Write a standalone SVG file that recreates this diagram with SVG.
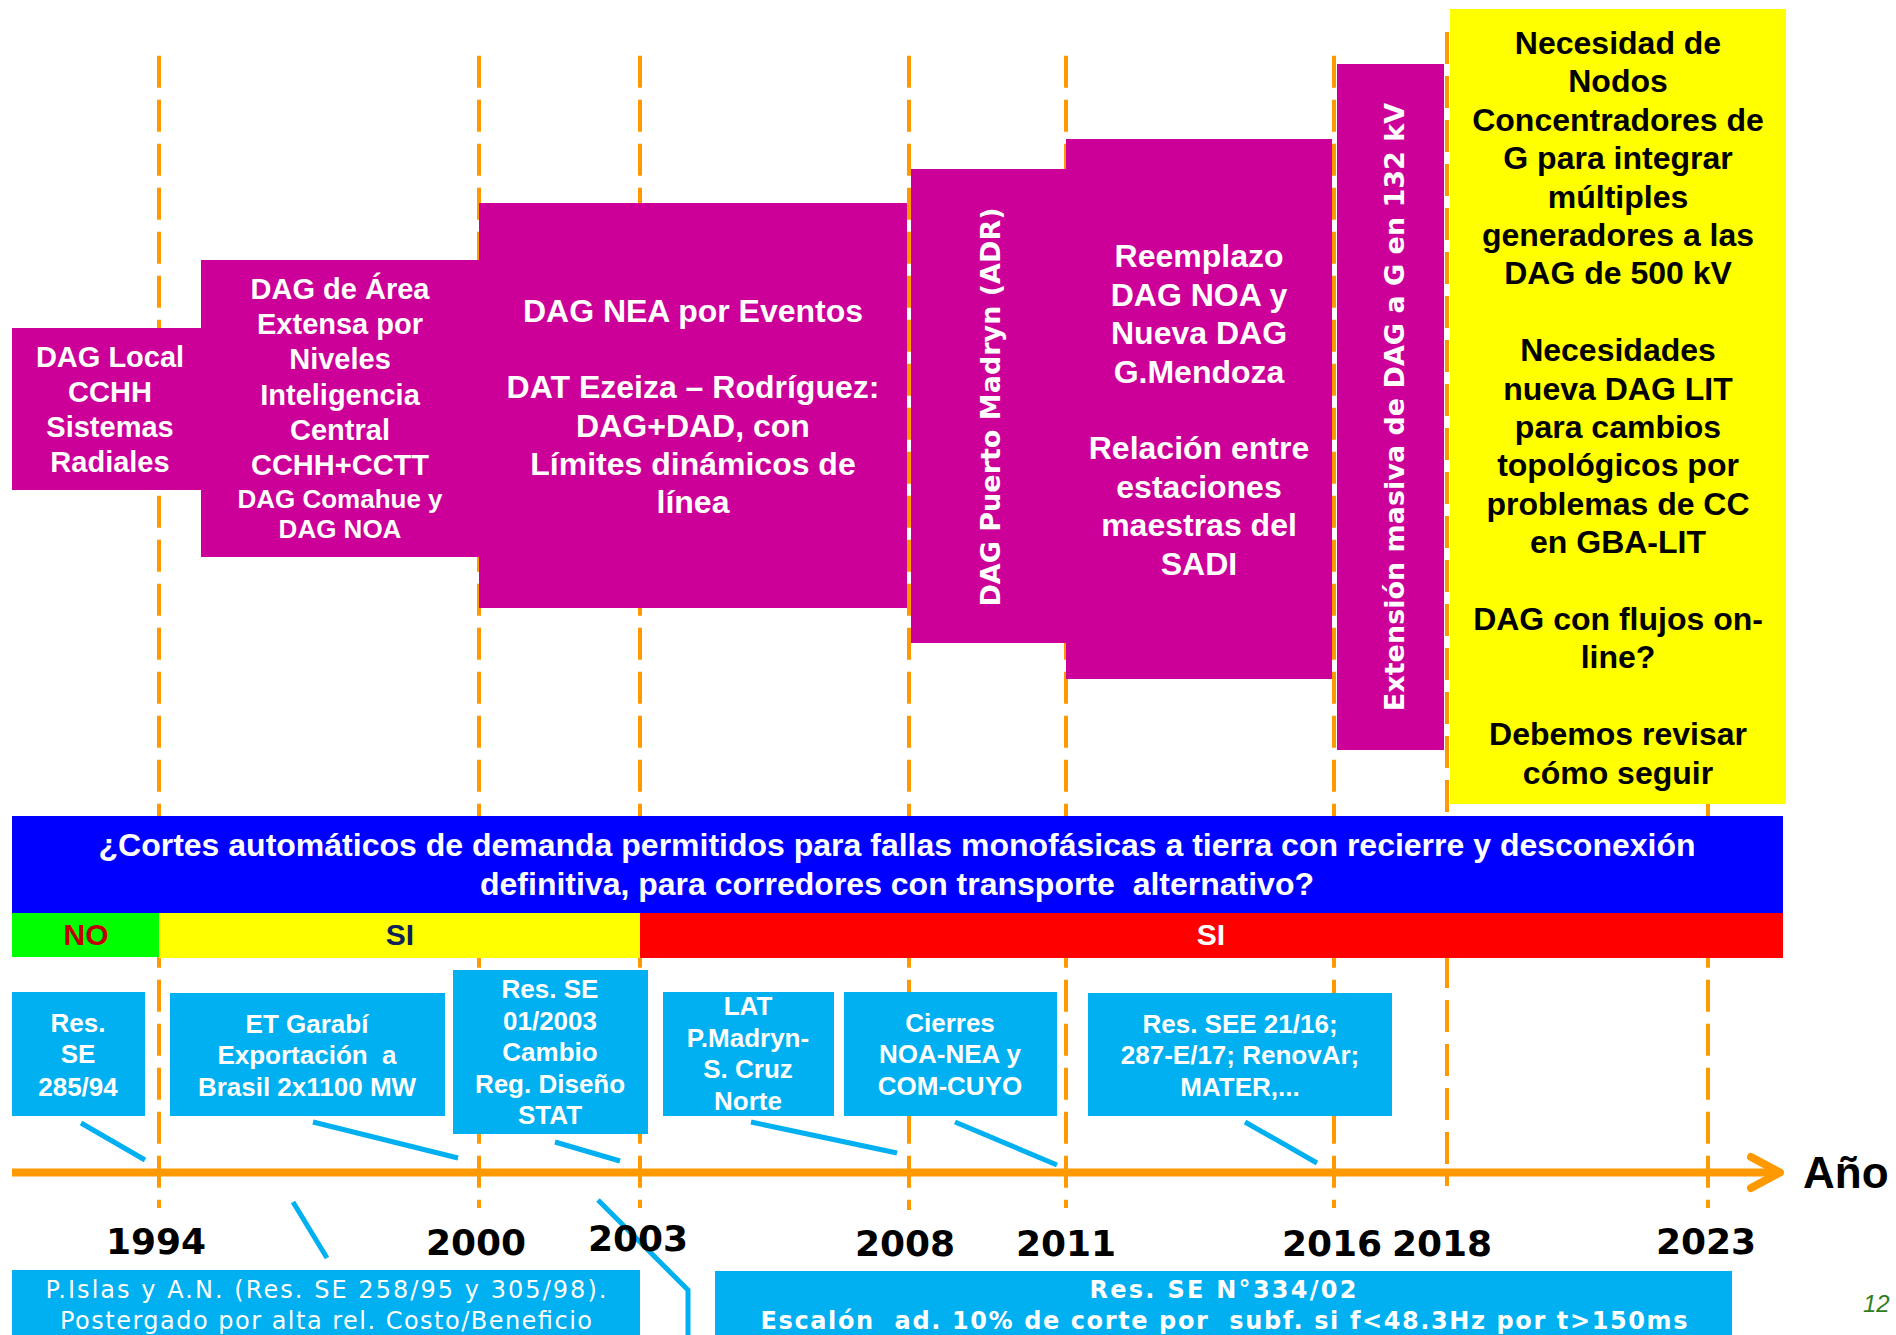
<svg xmlns="http://www.w3.org/2000/svg" width="1896" height="1335" viewBox="0 0 1896 1335">
<style>
.dash{stroke:#FF9900;stroke-width:4;stroke-dasharray:32 12;fill:none}
.mag{fill:#CC0099}
.cy{fill:#00B0F0}
.wt{fill:#FFFFFF;font-family:"Liberation Sans",Arial,sans-serif;font-weight:bold;text-anchor:middle}
.bk{fill:#000000;font-family:"Liberation Sans",Arial,sans-serif;font-weight:bold;text-anchor:middle;font-size:32px}
.t29{font-size:29px}
.t26{font-size:26px}
.t32{font-size:32px}
.rot{fill:#FFFFFF;font-family:"DejaVu Sans",Verdana,sans-serif;font-weight:bold;font-size:27px;text-anchor:middle}
.yr{fill:#000000;font-family:"DejaVu Sans",Verdana,sans-serif;font-weight:bold;font-size:36px;text-anchor:middle}
.conn{stroke:#00B0F0;stroke-width:5;fill:none}
.bt{fill:#FFFFFF;font-family:"DejaVu Sans",Verdana,sans-serif;font-size:24px;text-anchor:middle}
</style>
<rect x="0" y="0" width="1896" height="1335" fill="#FFFFFF"/>

<g id="gridlines">
<line class="dash" x1="159" y1="55.7" x2="159" y2="1208"/>
<line class="dash" x1="479" y1="55.7" x2="479" y2="1208"/>
<line class="dash" x1="640" y1="55.7" x2="640" y2="1208"/>
<line class="dash" x1="909" y1="55.7" x2="909" y2="1210"/>
<line class="dash" x1="1066" y1="55.7" x2="1066" y2="1208"/>
<line class="dash" x1="1334" y1="55.7" x2="1334" y2="1208"/>
<line class="dash" x1="1447" y1="32" x2="1447" y2="1186"/>
<line class="dash" x1="1708" y1="55.7" x2="1708" y2="1208"/>
</g>

<g id="node-dag-local">
<rect class="mag" x="12" y="328" width="189" height="162"/>
<text class="wt t29"><tspan x="110" y="366.7">DAG Local</tspan><tspan x="110" y="401.7">CCHH</tspan><tspan x="110" y="436.7">Sistemas</tspan><tspan x="110" y="471.7">Radiales</tspan></text>
</g>

<g id="node-dag-area">
<rect class="mag" x="201" y="260" width="278" height="297"/>
<text class="wt t29"><tspan x="340" y="299.3">DAG de Área</tspan><tspan x="340" y="334.3">Extensa por</tspan><tspan x="340" y="369.3">Niveles</tspan><tspan x="340" y="404.5">Inteligencia</tspan><tspan x="340" y="439.8">Central</tspan><tspan x="340" y="475">CCHH+CCTT</tspan></text>
<text class="wt t26"><tspan x="340" y="508.3">DAG Comahue y</tspan><tspan x="340" y="538.3">DAG NOA</tspan></text>
</g>

<g id="node-dag-nea">
<rect class="mag" x="479" y="203" width="428" height="405"/>
<text class="wt t32"><tspan x="693" y="321.7">DAG NEA por Eventos</tspan><tspan x="693" y="398.3">DAT Ezeiza – Rodríguez:</tspan><tspan x="693" y="436.7">DAG+DAD, con</tspan><tspan x="693" y="475">Límites dinámicos de</tspan><tspan x="693" y="513">línea</tspan></text>
</g>

<g id="node-puerto-madryn">
<rect class="mag" x="911" y="169" width="155" height="474"/>
<text class="rot" transform="translate(1000 407) rotate(-90)" x="0" y="0">DAG Puerto Madryn (ADR)</text>
</g>

<g id="node-reemplazo">
<rect class="mag" x="1066" y="139" width="266" height="540"/>
<text class="wt t32"><tspan x="1199" y="267">Reemplazo</tspan><tspan x="1199" y="305.5">DAG NOA y</tspan><tspan x="1199" y="344">Nueva DAG</tspan><tspan x="1199" y="382.5">G.Mendoza</tspan><tspan x="1199" y="459.3">Relación entre</tspan><tspan x="1199" y="497.7">estaciones</tspan><tspan x="1199" y="536.1">maestras del</tspan><tspan x="1199" y="574.5">SADI</tspan></text>
</g>

<g id="node-extension">
<rect class="mag" x="1337" y="64" width="107" height="686"/>
<text class="rot" transform="translate(1404 407) rotate(-90)" x="0" y="0">Extensión masiva de DAG a G en 132 kV</text>
</g>

<g id="node-necesidad">
<rect x="1450" y="9" width="336" height="795" fill="#FFFF00"/>
<text class="bk"><tspan x="1618" y="54">Necesidad de</tspan><tspan x="1618" y="92.4">Nodos</tspan><tspan x="1618" y="130.8">Concentradores de</tspan><tspan x="1618" y="169.2">G para integrar</tspan><tspan x="1618" y="207.6">múltiples</tspan><tspan x="1618" y="246">generadores a las</tspan><tspan x="1618" y="284.4">DAG de 500 kV</tspan><tspan x="1618" y="361.2">Necesidades</tspan><tspan x="1618" y="399.6">nueva DAG LIT</tspan><tspan x="1618" y="438">para cambios</tspan><tspan x="1618" y="476.4">topológicos por</tspan><tspan x="1618" y="514.8">problemas de CC</tspan><tspan x="1618" y="553.2">en GBA-LIT</tspan><tspan x="1618" y="630">DAG con flujos on-</tspan><tspan x="1618" y="668.4">line?</tspan><tspan x="1618" y="745.2">Debemos revisar</tspan><tspan x="1618" y="783.6">cómo seguir</tspan></text>
</g>

<g id="node-question">
<rect x="12" y="816" width="1771" height="97" fill="#0000FF"/>
<text class="wt t32" xml:space="preserve"><tspan x="897" y="856">¿Cortes automáticos de demanda permitidos para fallas monofásicas a tierra con recierre y desconexión</tspan><tspan x="897" y="895">definitiva, para corredores con transporte  alternativo?</tspan></text>
</g>

<g id="node-answers">
<rect x="12" y="913" width="147" height="44" fill="#00FF00"/>
<rect x="159" y="913" width="481" height="45" fill="#FFFF00"/>
<rect x="640" y="913" width="1143" height="45" fill="#FF0000"/>
<text x="86" y="945" font-family="Liberation Sans, Arial, sans-serif" font-weight="bold" font-size="30" fill="#C00000" text-anchor="middle">NO</text>
<text x="400" y="945" font-family="Liberation Sans, Arial, sans-serif" font-weight="bold" font-size="30" fill="#10205A" text-anchor="middle">SI</text>
<text x="1211" y="945" font-family="Liberation Sans, Arial, sans-serif" font-weight="bold" font-size="30" fill="#FFFFFF" text-anchor="middle">SI</text>
</g>

<g id="node-res-285">
<rect class="cy" x="12" y="992" width="133" height="124"/>
<text class="wt t26"><tspan x="78" y="1031.7">Res.</tspan><tspan x="78" y="1063.2">SE</tspan><tspan x="78" y="1095.5">285/94</tspan></text>
</g>

<g id="node-garabi">
<rect class="cy" x="170" y="993" width="275" height="123"/>
<text class="wt t26" xml:space="preserve"><tspan x="307" y="1032.5">ET Garabí</tspan><tspan x="307" y="1064">Exportación  a</tspan><tspan x="307" y="1095.5">Brasil 2x1100 MW</tspan></text>
</g>

<g id="node-res-01-2003">
<rect class="cy" x="453" y="970" width="195" height="164"/>
<text class="wt t26"><tspan x="550" y="998">Res. SE</tspan><tspan x="550" y="1029.5">01/2003</tspan><tspan x="550" y="1061">Cambio</tspan><tspan x="550" y="1092.5">Reg. Diseño</tspan><tspan x="550" y="1124">STAT</tspan></text>
</g>

<g id="node-lat">
<rect class="cy" x="663" y="992" width="171" height="124"/>
<text class="wt t26"><tspan x="748" y="1015">LAT</tspan><tspan x="748" y="1046.5">P.Madryn-</tspan><tspan x="748" y="1078">S. Cruz</tspan><tspan x="748" y="1109.5">Norte</tspan></text>
</g>

<g id="node-cierres">
<rect class="cy" x="844" y="992" width="213" height="124"/>
<text class="wt t26"><tspan x="950" y="1031.7">Cierres</tspan><tspan x="950" y="1063.2">NOA-NEA y</tspan><tspan x="950" y="1095">COM-CUYO</tspan></text>
</g>

<g id="node-res-see">
<rect class="cy" x="1088" y="993" width="304" height="123"/>
<text class="wt t26"><tspan x="1240" y="1032.5">Res. SEE 21/16;</tspan><tspan x="1240" y="1064">287-E/17; RenovAr;</tspan><tspan x="1240" y="1095.5">MATER,...</tspan></text>
</g>

<g id="node-pislas">
<rect class="cy" x="12" y="1270" width="628" height="70"/>
<text class="bt"><tspan x="326" y="1298" textLength="561" lengthAdjust="spacing">P.Islas y A.N. (Res. SE 258/95 y 305/98).</tspan><tspan x="326" y="1329" textLength="532" lengthAdjust="spacing">Postergado por alta rel. Costo/Beneficio</tspan></text>
</g>

<g id="node-res-334">
<rect class="cy" x="715" y="1271" width="1017" height="70"/>
<text class="bt" font-weight="bold" font-size="25" xml:space="preserve"><tspan x="1223" y="1298" textLength="267" lengthAdjust="spacing">Res. SE N°334/02</tspan><tspan x="1224" y="1329" textLength="927" lengthAdjust="spacing">Escalón  ad. 10% de corte por  subf. si f&lt;48.3Hz por t&gt;150ms</tspan></text>
</g>

<g id="connectors">
<line class="conn" x1="81" y1="1123" x2="145" y2="1160"/>
<line class="conn" x1="313" y1="1122" x2="458" y2="1158"/>
<line class="conn" x1="555" y1="1142" x2="620" y2="1161"/>
<line class="conn" x1="751" y1="1122" x2="897" y2="1153"/>
<line class="conn" x1="955" y1="1122" x2="1057" y2="1165"/>
<line class="conn" x1="1245" y1="1122" x2="1317" y2="1163"/>
<line class="conn" x1="293" y1="1202" x2="327" y2="1258"/>
<polyline class="conn" points="598,1200 688,1290 688,1335"/>
</g>

<g id="timeline">
<line x1="12" y1="1172.5" x2="1776" y2="1172.5" stroke="#FF9900" stroke-width="8"/>
<polyline points="1751,1157 1780,1172.5 1751,1188" fill="none" stroke="#FF9900" stroke-width="8" stroke-linecap="round" stroke-linejoin="round"/>
<text x="1803" y="1188" font-family="Liberation Sans, Arial, sans-serif" font-weight="bold" font-size="44" fill="#000000">Año</text>
</g>

<g id="years">
<text class="yr" x="156" y="1254">1994</text>
<text class="yr" x="476" y="1255">2000</text>
<text class="yr" x="638" y="1251">2003</text>
<text class="yr" x="905" y="1256">2008</text>
<text class="yr" x="1066" y="1256">2011</text>
<text class="yr" x="1332" y="1256">2016</text>
<text class="yr" x="1442" y="1256">2018</text>
<text class="yr" x="1706" y="1254">2023</text>
</g>

<text x="1863" y="1312" font-family="Liberation Sans, Arial, sans-serif" font-style="italic" font-size="24" fill="#2E7D1E">12</text>
</svg>
